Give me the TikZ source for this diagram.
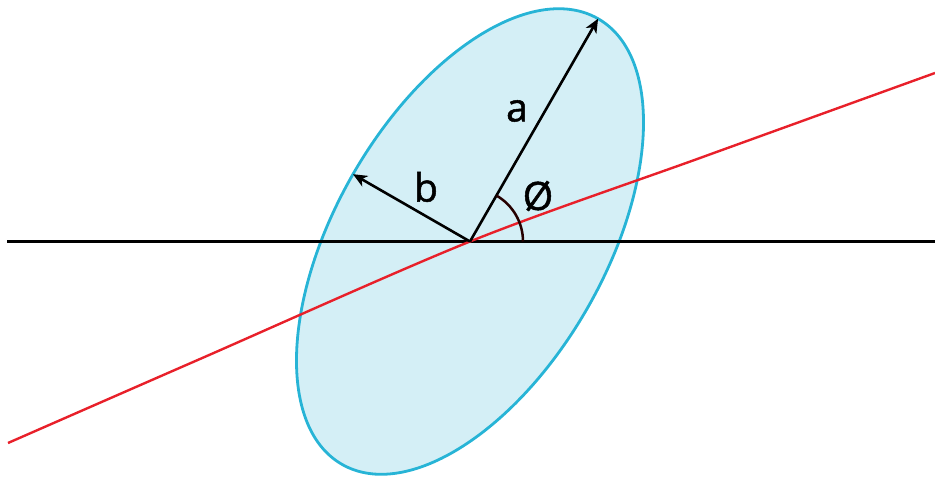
\documentclass[tikz,border=0pt]{standalone}
\usepackage{fontspec}
\setmainfont{Open Sans}
\newfontfamily\lblfont{Open Sans}[FakeBold=1.3]
\usetikzlibrary{arrows.meta}
\definecolor{ellfill}{HTML}{D4EFF6}
\definecolor{elldraw}{HTML}{27B4D6}
\definecolor{redline}{HTML}{E8202A}
\tikzset{
  axisline/.style={draw=black, line width=2.7pt},
  redaxis/.style={draw=redline, line width=2.4pt},
  radius arrow/.style={draw=black, line width=2.6pt, -{Stealth[length=14pt,width=12pt,inset=4pt]}},
  anglearc/.style={draw=black!85!red, line width=2.5pt},
  lbl/.style={font=\lblfont\fontsize{39}{41}\selectfont, inner sep=0pt},
}
\begin{document}
\begin{tikzpicture}[x=1pt,y=1pt]
\useasboundingbox (0,0) rectangle (935,479);
\coordinate (O) at (470,237.5);
\coordinate (A) at (598.1,460.3);
\coordinate (B) at (353,304.8);
\coordinate (L) at (7,237.5);
\coordinate (R) at (935,237.5);
\coordinate (E) at (523,237.5);
% ellipse
\draw[fill=ellfill, draw=elldraw, line width=2.8pt, rotate around={60.1:(O)}] (O) ellipse [x radius=257, y radius=135];
% horizontal axis
\draw[axisline] (L) -- (R);
% red line
\draw[redaxis] plot[smooth] coordinates {(8,36) (200,120) (470,237.5) (700,321) (935,406)};
% radii
\draw[radius arrow] (O) -- (A);
\draw[radius arrow] (O) -- (B);
% angle arc
\draw[anglearc] (E) arc[start angle=0, end angle=60.1, radius=53];
% labels
\node[lbl] (la) at (517,368) {a};
\node[lbl] (lb) at (426,292) {b};
\node[lbl] (lphi) at (538,283) {Ø};
\end{tikzpicture}
\end{document}
